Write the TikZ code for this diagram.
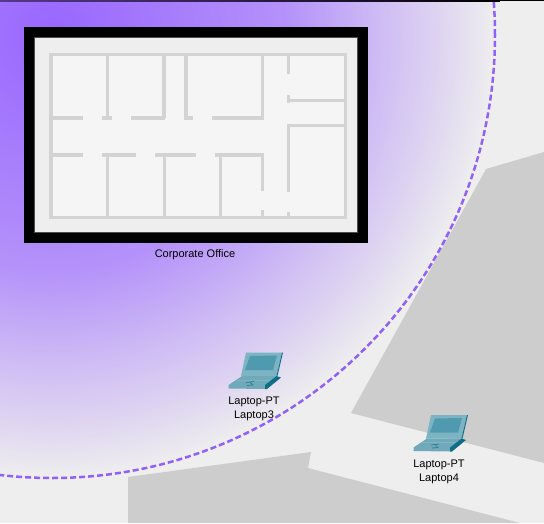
\documentclass[tikz,border=0pt]{standalone}
\usepackage{fontspec}
\setmainfont{Liberation Sans}
\usepackage{xcolor}
\usepackage{tikz}

\definecolor{ground}{HTML}{EEEEEE}
\definecolor{block}{HTML}{CDCDCD}
\definecolor{floorc}{HTML}{F5F5F5}
\definecolor{wallc}{HTML}{D3D3D3}
\definecolor{cellc}{HTML}{9966FF}
\definecolor{dashc}{HTML}{9160FA}
\definecolor{lapLid}{HTML}{7DB4C4}
\definecolor{lapScreen}{HTML}{4F9AAE}
\definecolor{lapBase}{HTML}{6FA9BA}
\definecolor{lapDark}{HTML}{0F6E85}

% Dégradé de la zone sans fil
\pgfdeclareradialshading{cellfade}{\pgfpoint{0bp}{0bp}}{%
  color(0bp)=(cellc); color(13.25bp)=(cellc!68!ground); color(18.5bp)=(cellc!37!ground);
  color(21.5bp)=(cellc!21!ground); color(25bp)=(ground); color(50bp)=(ground)}

\tikzset{
  pics/laptop/.style={code={
    % Couvercle
    \fill [lapLid] (22,4.5) -- (58,4.5) -- (52.5,28) -- (17,28) -- cycle;
    \fill [lapScreen] (26,8) -- (53,7.5) -- (49,22) -- (21,22) -- cycle;
    \fill [lapDark] (58,4.5) -- (59,4.5) -- (53.5,28) -- (52.5,28) -- cycle;
    % Base
    \fill [lapBase] (4.5,37) -- (18,28) -- (52.5,28) -- (41,37) -- (41,41) -- (4.5,40.5) -- cycle;
    \fill [lapDark] (52.5,28) -- (57,29.5) -- (43,41) -- (41,41) -- (41,37) -- cycle;
    \draw [lapDark!70!lapBase, line width=.7pt] (22,34.5) -- (30,33.5) (23,37.5) -- (29,37) -- (26,34);
    \draw [lapLid, line width=.7pt] (13,32) -- (46,32);
  }}
}

\begin{document}
\begin{tikzpicture}[x=1pt, y=-1pt]
    \tikzstyle{wall} = [draw=wallc, line width=3.3pt]
    \tikzstyle{label} = [font=\fontsize{11}{14}\selectfont, align=center, inner sep=0pt]

    % Fond
    \useasboundingbox (0,0) rectangle (544,523);
    \clip (0,0) rectangle (544,523);
    \fill [ground] (0,0) rectangle (544,523);

    % Blocs gris
    \fill [block] (351,413) -- (486,169) -- (544,152) -- (544,463) -- cycle;
    \fill [block] (128,477) -- (311,452) -- (308,468) -- (520,523) -- (128,523) -- cycle;

    % Zone sans fil
    \shade [shading=cellfade] (52,35) circle [radius=443pt];
    \draw [dashc, line width=2.5pt, dash pattern=on 6pt off 3pt] (52,35) circle [radius=443pt];

    % Bord haut
    \shade [left color=cellc!55!black, right color=black] (0,0) rectangle (500,1);
    \fill [black] (500,0) rectangle (544,1);

    % Bâtiment
    \fill [black] (24,27) rectangle (368,243);
    \filldraw [fill=ground, draw=black!70, line width=.5pt] (34.5,37.5) rectangle (357.5,232);
    \filldraw [fill=floorc, wall] (51,54.5) rectangle (345.3,217.7);

    % Cloisons verticales
    \foreach \x in {107.7, 164, 186, 262.7}
        \draw [wall] (\x,54.5) -- (\x,118);
    \foreach \x in {107.7, 164.3, 220.3}
        \draw [wall] (\x,155) -- (\x,217.7);
    \draw [wall] (288.3,54.5) -- (288.3,74);
    \draw [wall] (288.3,94.5) -- (288.3,103);
    \draw [wall] (288.3,123.5) -- (288.3,191.7);
    \draw [wall] (288.3,211.7) -- (288.3,217.7);
    \draw [wall] (262.7,155) -- (262.7,190.7);
    \draw [wall] (262.7,210.3) -- (262.7,217.7);

    % Cloisons horizontales
    \foreach \a/\b in {51/82.7, 101.7/112.3, 131.3/165.3, 184.3/192.7, 211.7/264}
        \draw [wall] (\a,118) -- (\b,118);
    \foreach \a/\b in {51/82.7, 101.7/135.7, 155/196, 215/264}
        \draw [wall] (\a,155) -- (\b,155);
    \draw [wall] (288.3,100.3) -- (345.3,100.3);
    \draw [wall] (288.3,125.7) -- (345.3,125.7);

    \node [label] (office) at (195,255) {Corporate Office};

    % Portables
    \pic at (224,348) {laptop};
    \node [label] (laptopA) at (254,408.5) {Laptop-PT\\Laptop3};
    \pic at (409,410.5) {laptop};
    \node [label] (laptopB) at (439,471.5) {Laptop-PT\\Laptop4};
\end{tikzpicture}
\end{document}
